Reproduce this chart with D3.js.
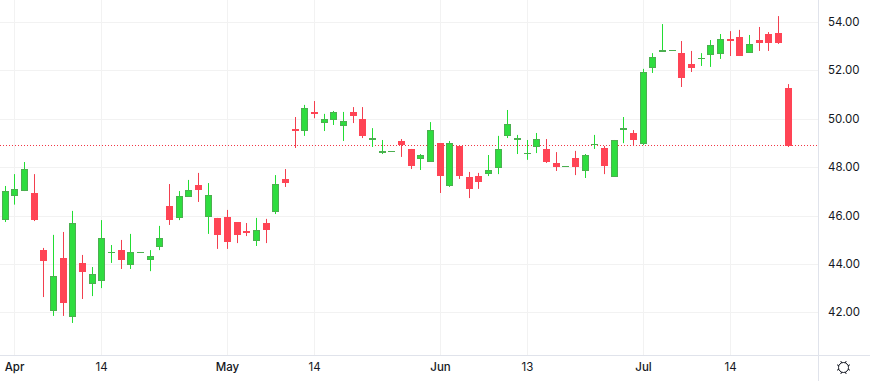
<!DOCTYPE html>
<html>
<head>
<meta charset="utf-8">
<script src="https://cdn.jsdelivr.net/npm/d3@7"></script>
<style>
  html, body { margin: 0; padding: 0; background: #fff; }
  svg { display: block; }
  text { font-family: Inter, "Noto Sans", sans-serif; font-size: 11.5px; fill: #131722; }
</style>
</head>
<body>
<svg id="chart" width="870" height="381"></svg>
<script>
// values, one entry per trading day
const opens = [45.87,46.86,47.06,46.93,44.57,42.10,44.24,41.86,44.04,43.21,43.34,44.47,44.57,44.00,44.47,44.20,
  44.74,46.39,45.94,46.81,47.26,45.98,45.90,45.94,45.73,45.36,44.99,45.69,46.19,47.51,49.57,49.53,50.28,49.86,
  49.99,49.74,50.28,49.99,49.12,48.58,48.64,49.08,48.75,48.38,48.25,48.99,47.26,48.87,47.59,47.63,47.76,48.00,
  49.33,49.12,48.54,48.87,48.75,48.17,48.02,48.38,47.88,48.91,48.79,47.63,49.53,49.41,48.99,52.14,52.76,52.82,
  52.71,52.26,52.47,52.67,52.71,53.29,53.38,52.76,53.25,53.50,53.54,51.27];
const highs = [47.22,47.71,48.21,47.71,44.66,45.20,45.32,46.19,44.37,43.87,45.81,44.78,44.99,45.24,44.48,44.57,
  45.57,47.30,47.01,47.47,47.76,47.34,45.90,46.23,45.73,45.69,45.90,45.86,47.67,47.92,50.07,50.57,50.73,50.20,
  50.32,50.28,50.48,50.48,49.61,49.12,48.65,49.16,48.75,48.54,49.86,48.99,49.08,48.91,47.80,47.76,48.50,49.29,
  50.36,49.33,49.12,49.41,49.16,48.62,48.03,48.67,48.54,49.33,48.87,49.12,50.07,49.53,52.06,52.71,53.91,52.83,
  53.21,52.80,52.71,53.25,53.50,53.62,53.67,53.46,53.79,53.58,54.24,51.43];
const lows = [45.73,46.45,47.01,45.77,42.63,41.85,41.85,41.56,42.55,42.67,43.00,44.04,43.79,43.79,44.47,43.70,
  44.57,45.61,45.81,46.77,46.56,45.24,44.62,44.62,44.86,45.15,44.74,44.86,46.06,47.18,48.79,49.29,50.02,49.49,
  49.74,49.08,49.82,49.20,48.83,48.54,48.64,48.42,47.92,47.88,48.25,46.93,47.18,47.51,46.72,47.10,47.63,47.71,
  49.20,48.54,48.30,48.58,48.17,47.84,48.02,47.67,47.55,48.75,47.71,47.63,48.99,48.87,48.91,51.89,52.76,52.82,
  51.31,51.93,52.18,52.14,52.47,52.59,52.59,52.76,52.80,52.80,53.09,48.83];
const closes = [47.01,47.10,47.92,45.81,44.12,43.50,42.39,45.69,43.67,43.58,45.07,44.48,44.16,44.49,44.48,44.33,
  45.07,45.81,46.81,47.06,47.06,46.85,45.20,44.91,45.20,45.28,45.40,45.40,47.30,47.34,49.49,50.44,50.20,49.99,
  50.28,49.90,50.11,49.29,49.20,48.67,48.65,48.91,48.05,48.50,49.53,47.63,48.99,47.63,47.10,47.38,47.88,48.75,
  49.78,49.20,48.58,49.16,48.21,48.00,48.03,48.00,48.50,48.95,48.05,49.12,49.61,49.12,51.93,52.55,52.84,52.83,
  51.68,52.10,52.51,53.05,53.29,53.21,52.59,53.09,53.13,53.13,53.13,48.87];

const priceTicks = [42, 44, 46, 48, 50, 52, 54];
const timeTicks = [1, 10, 23, 32, 45, 54, 66, 75];
const timeLabels = ["Apr", "14", "May", "14", "Jun", "13", "Jul", "14"];
const monthLabels = ["Apr", "May", "Jun", "Jul"];
const lastPrice = 48.90;

const upBody = "#2edd3f", upBorder = "#4caf50", upWick = "#22dd33";
const downBody = "#ff4455", downWick = "#f23f4f";

const plotRight = 818, plotBottom = 355;

const svg = d3.select("svg#chart");
const candles = opens.map((o, i) => ({ i: i, o: o, h: highs[i], l: lows[i], c: closes[i] }));

const x = d3.scalePoint()
  .domain(d3.range(candles.length))
  .range([5.3, 788.3]);

const y = d3.scaleLinear()
  .domain([42, 54])
  .range([312.3, 21.9]);

// snap to whole pixels the way the original canvas does
const px = i => Math.floor(x(i));
const py = v => Math.round(y(v));

// grid
const gridY = svg.append("g").call(d3.axisRight(y).tickValues(priceTicks).tickSize(plotRight).tickFormat(""));
const gridX = svg.append("g").call(d3.axisBottom(x).tickValues(timeTicks).tickSize(plotBottom).tickFormat(""));
gridY.select(".domain").remove();
gridX.select(".domain").remove();
gridY.selectAll(".tick").attr("transform", d => "translate(0," + (py(d) + 0.5) + ")");
gridX.selectAll(".tick").attr("transform", d => "translate(" + (px(d) + 0.5) + ",0)");
gridY.selectAll("line").attr("stroke", "#f2f2f2");
gridX.selectAll("line").attr("stroke", "#f2f2f2");

// last price line
svg.append("line")
  .attr("x1", 0).attr("x2", plotRight)
  .attr("y1", py(lastPrice) + 0.5).attr("y2", py(lastPrice) + 0.5)
  .attr("stroke", "#f23645")
  .attr("stroke-dasharray", "1,2");

// candles
const candle = svg.append("g").selectAll("g")
  .data(candles)
  .join("g");

candle.append("line")
  .attr("x1", d => px(d.i) + 0.5)
  .attr("x2", d => px(d.i) + 0.5)
  .attr("y1", d => y(d.h))
  .attr("y2", d => y(d.l))
  .attr("stroke", d => d.c >= d.o ? upWick : downWick);

const isThin = d => Math.abs(y(d.o) - y(d.c)) < 2.5;
const isUp = d => d.c >= d.o;

// up candles carry a 1px border inside their 7px width
candle.append("rect")
  .attr("x", d => px(d.i) - 3 + (isUp(d) && !isThin(d) ? 0.5 : 0))
  .attr("width", d => isUp(d) && !isThin(d) ? 6 : 7)
  .attr("y", d => py(Math.max(d.o, d.c)) + (isUp(d) && !isThin(d) ? 0.5 : 0))
  .attr("height", d => Math.max(1, Math.round(Math.abs(y(d.o) - y(d.c)))))
  .attr("fill", d => isUp(d) ? (isThin(d) ? upBorder : upBody) : downBody)
  .attr("stroke", d => isUp(d) && !isThin(d) ? upBorder : "none");

// borders
svg.append("line").attr("x1", plotRight + 0.5).attr("x2", plotRight + 0.5).attr("y1", 0).attr("y2", 381).attr("stroke", "#e0e3eb");
svg.append("line").attr("x1", 0).attr("x2", 870).attr("y1", plotBottom + 0.5).attr("y2", plotBottom + 0.5).attr("stroke", "#e0e3eb");

// price axis
const priceAxis = svg.append("g")
  .attr("transform", "translate(" + plotRight + ",0)")
  .call(d3.axisRight(y).tickValues(priceTicks).tickSize(0).tickPadding(10).tickFormat(d3.format(".2f")));
priceAxis.select(".domain").remove();
priceAxis.selectAll("text").style("font-size", "11.5px");

// time axis
const timeAxis = svg.append("g")
  .attr("transform", "translate(0," + plotBottom + ")")
  .call(d3.axisBottom(x).tickValues(timeTicks).tickSize(0).tickPadding(8)
    .tickFormat((d, i) => timeLabels[i]));
timeAxis.select(".domain").remove();
timeAxis.selectAll(".tick").attr("transform", d => "translate(" + (px(d) + 0.5) + ",0)");
timeAxis.selectAll("text")
  .style("font-size", "11.5px")
  .style("font-weight", (d, i) => monthLabels.includes(timeLabels[i]) ? 500 : 400);

// settings gear, bottom right
const gear = svg.append("g").attr("transform", "translate(843.5,367.5)").attr("fill", "none").attr("stroke", "#131722");
gear.append("circle").attr("r", 5);
d3.range(8).forEach(k => {
  const a = k * Math.PI / 4 + Math.PI / 8;
  gear.append("line")
    .attr("x1", 5 * Math.cos(a)).attr("y1", 5 * Math.sin(a))
    .attr("x2", 7 * Math.cos(a)).attr("y2", 7 * Math.sin(a));
});
</script>
</body>
</html>
